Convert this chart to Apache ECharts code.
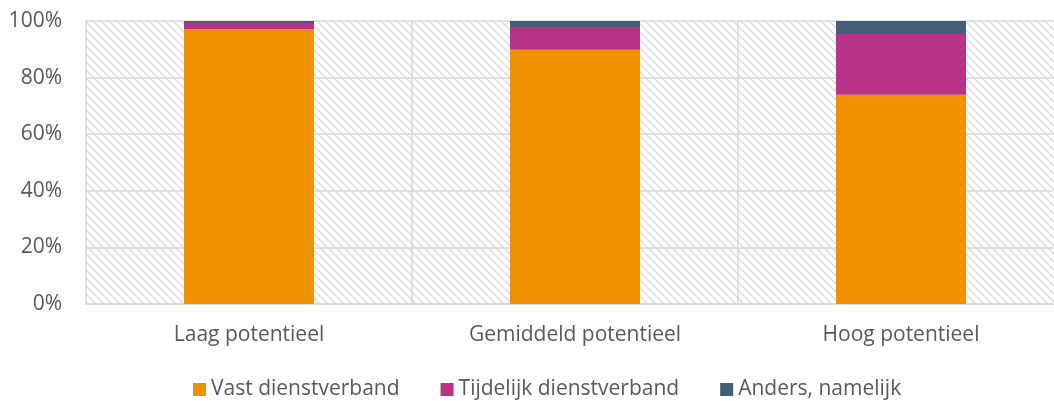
<!DOCTYPE html>
<html>
<head>
<meta charset="utf-8">
<script src="https://cdn.jsdelivr.net/npm/echarts@6/dist/echarts.min.js"></script>
<style>html,body{margin:0;padding:0;background:#fff;}#c{width:1054px;height:401px;}</style>
</head>
<body>
<div id="c"></div>
<script>
var categories = ['Laag potentieel', 'Gemiddeld potentieel', 'Hoog potentieel'];
var vast = [97.1, 89.8, 73.9];
var tijdelijk = [2.2, 8.1, 21.5];
var anders = [0.7, 2.1, 4.6];
var seriesNames = ['Vast dienstverband', 'Tijdelijk dienstverband', 'Anders, namelijk'];
var yTicks = [0, 20, 40, 60, 80, 100];

var pc = document.createElement('canvas');
pc.width = 8; pc.height = 8;
var ctx = pc.getContext('2d');
ctx.fillStyle = '#ffffff';
ctx.fillRect(0, 0, 8, 8);
ctx.strokeStyle = '#dcdcdc';
ctx.lineWidth = 1.5;
ctx.beginPath();
ctx.moveTo(-2, -2); ctx.lineTo(10, 10);
ctx.moveTo(-10, -2); ctx.lineTo(2, 10);
ctx.moveTo(6, -2); ctx.lineTo(18, 10);
ctx.stroke();

var font = 'Open Sans';
var chart = echarts.init(document.getElementById('c'));
var colors = ['#F29100', '#B83387', '#445E78'];
var dataSets = [vast, tijdelijk, anders];
chart.setOption({
  animation: false,
  color: colors,
  grid: {left: 86, width: 978, top: 21, bottom: 97, show: true,
    outerBoundsMode: 'none', containLabel: false,
    backgroundColor: {image: pc, repeat: 'repeat'}, borderWidth: 0},
  legend: {
    top: 374, left: 188, itemWidth: 13, itemHeight: 13, itemGap: 41,
    icon: 'rect', padding: 5,
    textStyle: {fontFamily: font, fontSize: 21, color: '#595959'},
    data: seriesNames
  },
  xAxis: {
    type: 'category', data: categories,
    axisLine: {show: true, lineStyle: {color: '#d9d9d9', width: 1.5}},
    axisTick: {show: false},
    splitLine: {show: true, lineStyle: {color: '#d9d9d9', width: 1.5}},
    axisLabel: {fontFamily: font, fontSize: 21, color: '#595959', margin: 21}
  },
  yAxis: {
    type: 'value', min: 0, max: 100, interval: 20,
    axisLine: {show: false}, axisTick: {show: false},
    splitLine: {lineStyle: {color: '#d9d9d9', width: 1.5}},
    axisLabel: {fontFamily: font, fontSize: 21, color: '#595959', margin: 24,
      formatter: function(v){ return yTicks.indexOf(v) >= 0 ? v + '%' : ''; }}
  },
  series: dataSets.map(function(d, i){
    return {name: seriesNames[i], type: 'bar', stack: 'total', barWidth: 130, data: d};
  })
});
</script>
</body>
</html>
